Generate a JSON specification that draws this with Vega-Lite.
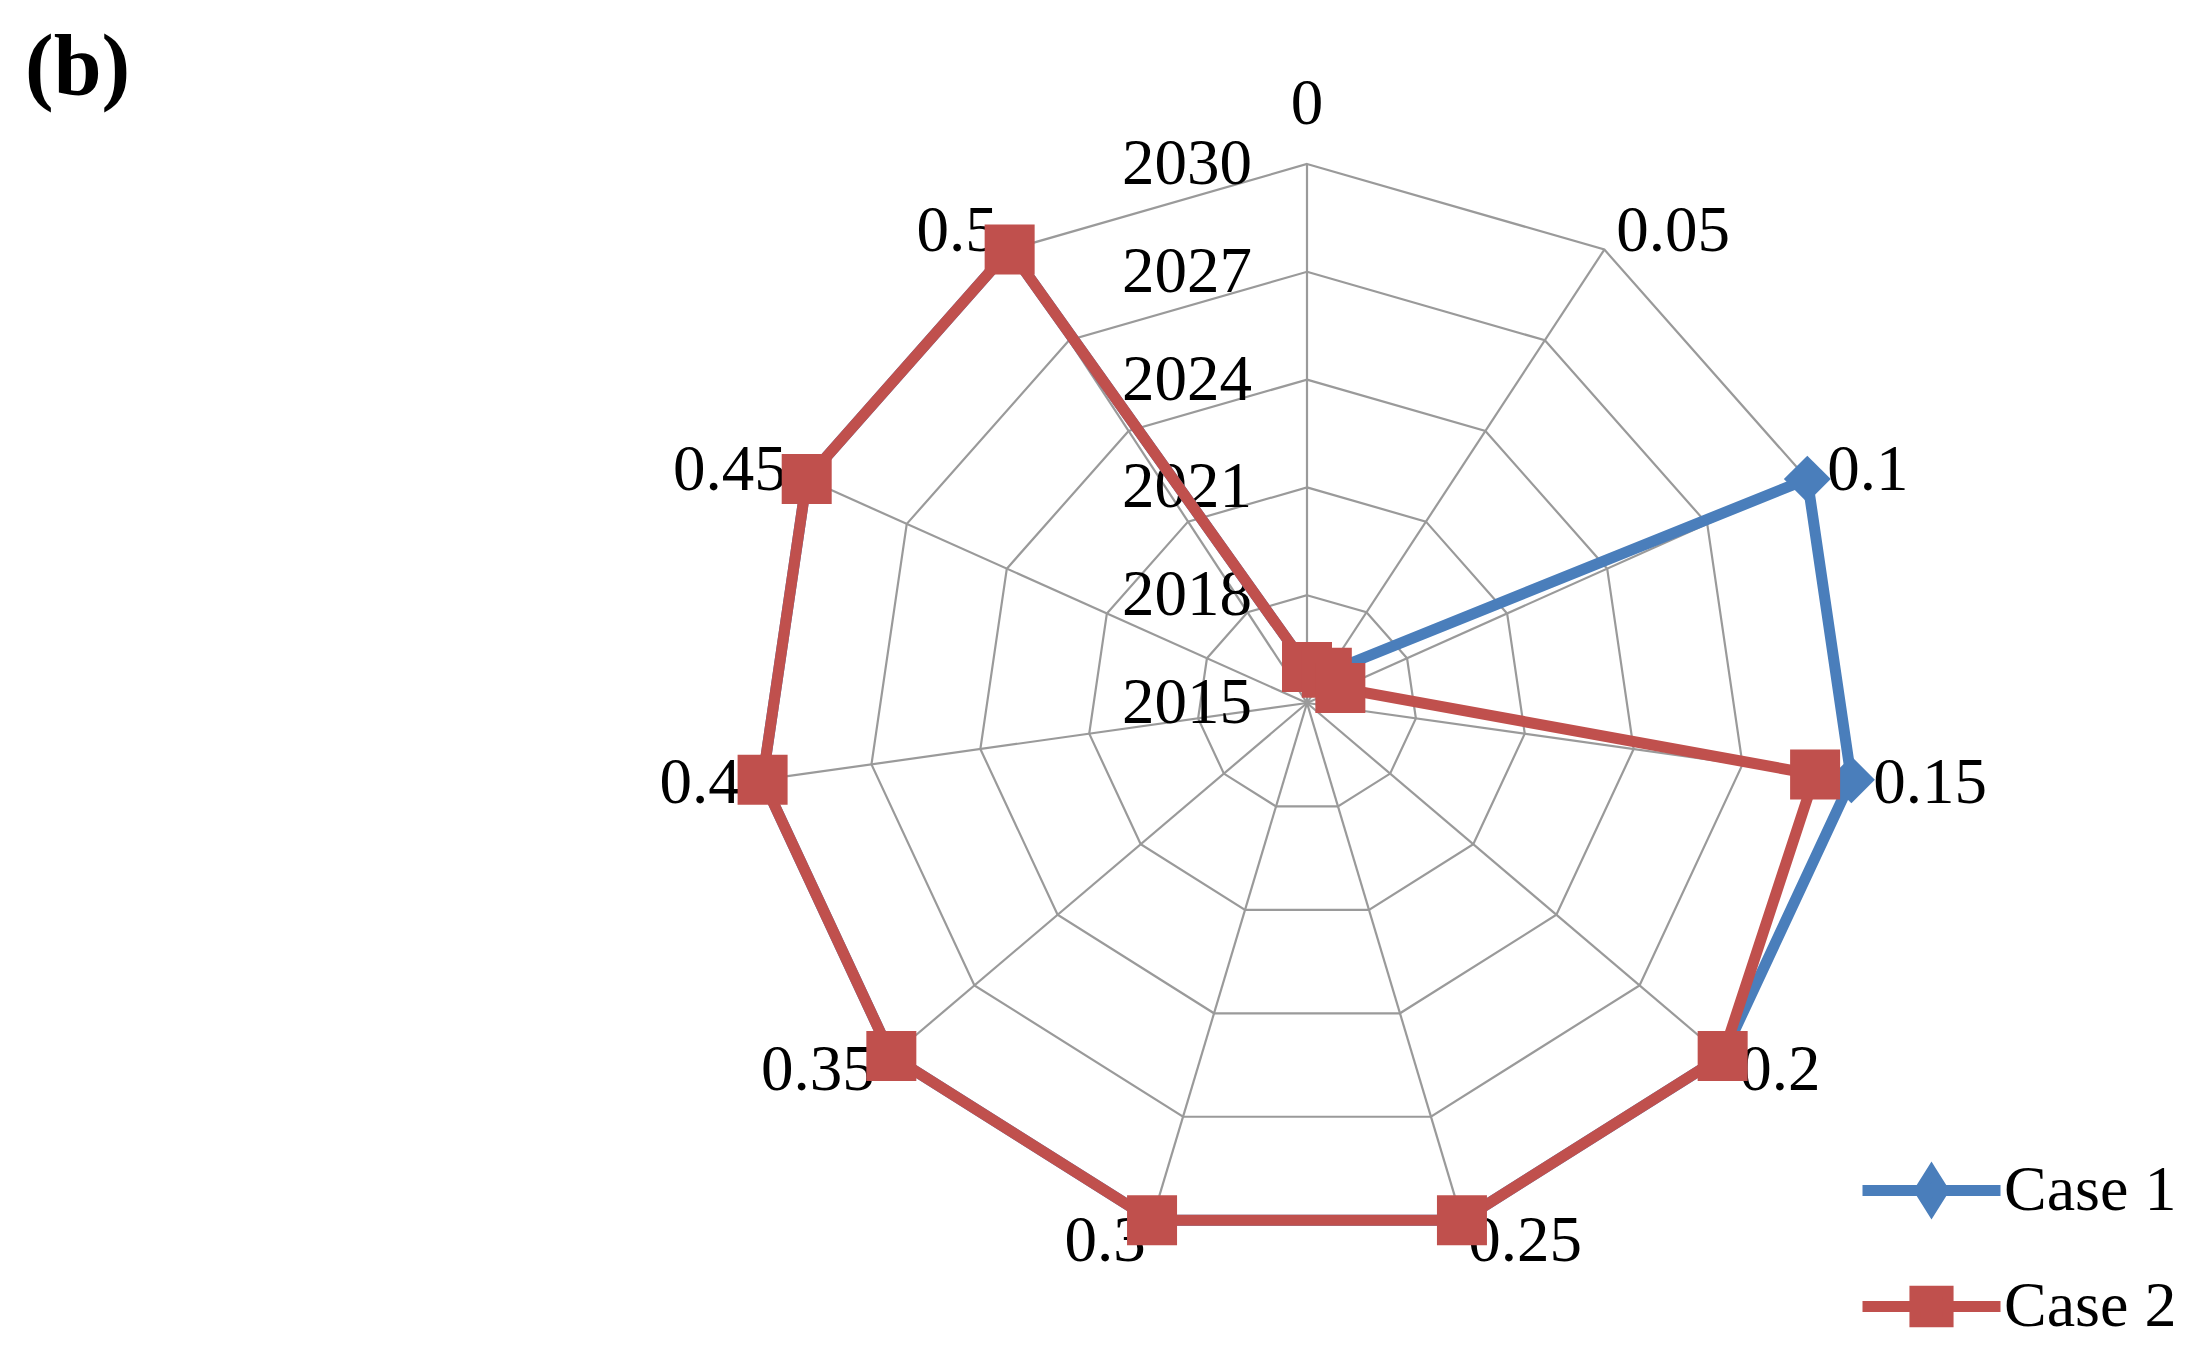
{
  "$schema": "https://vega.github.io/schema/vega-lite/v6.json",
  "width": 1100,
  "height": 1078,
  "autosize": "none",
  "padding": {"left": 757, "top": 164, "right": 345, "bottom": 116},
  "background": "white",
  "config": {"view": {"stroke": null}},
  "title": {
    "text": "(b)",
    "anchor": "start",
    "frame": "group",
    "font": "Liberation Serif",
    "fontWeight": "bold",
    "fontSize": 86,
    "color": "black",
    "baseline": "alphabetic",
    "dx": -732,
    "offset": 0,
    "dy": 108
  },
  "datasets": {
    "series": [
      {"case": "Case 1", "cat": 0, "year": 2016},
      {"case": "Case 1", "cat": 0.05, "year": 2016},
      {"case": "Case 1", "cat": 0.1, "year": 2030},
      {"case": "Case 1", "cat": 0.15, "year": 2030},
      {"case": "Case 1", "cat": 0.2, "year": 2030},
      {"case": "Case 1", "cat": 0.25, "year": 2030},
      {"case": "Case 1", "cat": 0.3, "year": 2030},
      {"case": "Case 1", "cat": 0.35, "year": 2030},
      {"case": "Case 1", "cat": 0.4, "year": 2030},
      {"case": "Case 1", "cat": 0.45, "year": 2030},
      {"case": "Case 1", "cat": 0.5, "year": 2030},
      {"case": "Case 2", "cat": 0, "year": 2016},
      {"case": "Case 2", "cat": 0.05, "year": 2016},
      {"case": "Case 2", "cat": 0.1, "year": 2016},
      {"case": "Case 2", "cat": 0.15, "year": 2029},
      {"case": "Case 2", "cat": 0.2, "year": 2030},
      {"case": "Case 2", "cat": 0.25, "year": 2030},
      {"case": "Case 2", "cat": 0.3, "year": 2030},
      {"case": "Case 2", "cat": 0.35, "year": 2030},
      {"case": "Case 2", "cat": 0.4, "year": 2030},
      {"case": "Case 2", "cat": 0.45, "year": 2030},
      {"case": "Case 2", "cat": 0.5, "year": 2030}
    ],
    "grid": [
      {"year": 2015, "cat": [0, 0.05, 0.1, 0.15, 0.2, 0.25, 0.3, 0.35, 0.4, 0.45, 0.5]},
      {"year": 2018, "cat": [0, 0.05, 0.1, 0.15, 0.2, 0.25, 0.3, 0.35, 0.4, 0.45, 0.5]},
      {"year": 2021, "cat": [0, 0.05, 0.1, 0.15, 0.2, 0.25, 0.3, 0.35, 0.4, 0.45, 0.5]},
      {"year": 2024, "cat": [0, 0.05, 0.1, 0.15, 0.2, 0.25, 0.3, 0.35, 0.4, 0.45, 0.5]},
      {"year": 2027, "cat": [0, 0.05, 0.1, 0.15, 0.2, 0.25, 0.3, 0.35, 0.4, 0.45, 0.5]},
      {"year": 2030, "cat": [0, 0.05, 0.1, 0.15, 0.2, 0.25, 0.3, 0.35, 0.4, 0.45, 0.5]}
    ]
  },
  "layer": [
    {
      "data": {"name": "grid"},
      "transform": [
        {"flatten": ["cat"]},
        {"filter": "datum.year > 2015"},
        {"calculate": "datum.cat / 0.05 * 2 * PI / 11", "as": "theta"},
        {"calculate": "(datum.year - 2015) / 15", "as": "r"},
        {"calculate": "datum.r * sin(datum.theta)", "as": "px"},
        {"calculate": "datum.r * cos(datum.theta)", "as": "py"}
      ],
      "mark": {"type": "line", "interpolate": "linear-closed", "color": "#9a9a9a", "strokeWidth": 2.2},
      "encoding": {
        "x": {"field": "px", "type": "quantitative", "scale": {"domain": [-1, 1], "nice": false, "zero": false}, "axis": null},
        "y": {"field": "py", "type": "quantitative", "scale": {"domain": [-1, 1], "nice": false, "zero": false}, "axis": null},
        "detail": {"field": "year", "type": "nominal"},
        "order": {"field": "cat", "type": "quantitative"}
      }
    },
    {
      "data": {"name": "grid"},
      "transform": [
        {"flatten": ["cat"]},
        {"filter": "datum.year == 2030"},
        {"calculate": "datum.cat / 0.05 * 2 * PI / 11", "as": "theta"},
        {"calculate": "sin(datum.theta)", "as": "px"},
        {"calculate": "cos(datum.theta)", "as": "py"},
        {"calculate": "0", "as": "ox"},
        {"calculate": "0", "as": "oy"}
      ],
      "mark": {"type": "rule", "color": "#9a9a9a", "strokeWidth": 2.2},
      "encoding": {
        "x": {"field": "ox", "type": "quantitative"},
        "y": {"field": "oy", "type": "quantitative"},
        "x2": {"field": "px"},
        "y2": {"field": "py"}
      }
    },
    {
      "data": {"name": "grid"},
      "transform": [
        {"flatten": ["cat"]},
        {"filter": "datum.cat == 0"},
        {"calculate": "(datum.year - 2015) / 15", "as": "py"},
        {"calculate": "0", "as": "px"}
      ],
      "mark": {"type": "text", "align": "right", "baseline": "middle", "dx": -55, "font": "Liberation Serif", "fontSize": 65, "color": "black"},
      "encoding": {
        "x": {"field": "px", "type": "quantitative"},
        "y": {"field": "py", "type": "quantitative"},
        "text": {"field": "year", "type": "nominal"}
      }
    },
    {
      "data": {"name": "grid"},
      "transform": [
        {"flatten": ["cat"]},
        {"filter": "datum.year == 2030 && datum.cat > 0.01 && datum.cat < 0.27"},
        {"calculate": "datum.cat / 0.05 * 2 * PI / 11", "as": "theta"},
        {"calculate": "1.04 * sin(datum.theta)", "as": "px"},
        {"calculate": "1.04 * cos(datum.theta)", "as": "py"}
      ],
      "mark": {"type": "text", "align": "left", "baseline": "middle", "font": "Liberation Serif", "fontSize": 65, "color": "black"},
      "encoding": {
        "x": {"field": "px", "type": "quantitative"},
        "y": {"field": "py", "type": "quantitative"},
        "text": {"field": "cat", "type": "nominal"}
      }
    },
    {
      "data": {"name": "grid"},
      "transform": [
        {"flatten": ["cat"]},
        {"filter": "datum.year == 2030 && datum.cat > 0.27"},
        {"calculate": "datum.cat / 0.05 * 2 * PI / 11", "as": "theta"},
        {"calculate": "1.04 * sin(datum.theta)", "as": "px"},
        {"calculate": "1.04 * cos(datum.theta)", "as": "py"}
      ],
      "mark": {"type": "text", "align": "right", "baseline": "middle", "font": "Liberation Serif", "fontSize": 65, "color": "black"},
      "encoding": {
        "x": {"field": "px", "type": "quantitative"},
        "y": {"field": "py", "type": "quantitative"},
        "text": {"field": "cat", "type": "nominal"}
      }
    },
    {
      "data": {"name": "grid"},
      "transform": [
        {"flatten": ["cat"]},
        {"filter": "datum.year == 2030 && datum.cat == 0"},
        {"calculate": "0", "as": "px"},
        {"calculate": "1.04", "as": "py"}
      ],
      "mark": {"type": "text", "align": "center", "baseline": "middle", "dy": -38, "font": "Liberation Serif", "fontSize": 65, "color": "black"},
      "encoding": {
        "x": {"field": "px", "type": "quantitative"},
        "y": {"field": "py", "type": "quantitative"},
        "text": {"field": "cat", "type": "nominal"}
      }
    },
    {
      "data": {"name": "series"},
      "transform": [
        {"filter": "datum.case == 'Case 1'"},
        {"calculate": "datum.cat / 0.05 * 2 * PI / 11", "as": "theta"},
        {"calculate": "(datum.year - 2015) / 15", "as": "r"},
        {"calculate": "datum.r * sin(datum.theta)", "as": "px"},
        {"calculate": "datum.r * cos(datum.theta)", "as": "py"}
      ],
      "mark": {"type": "line", "interpolate": "linear-closed", "strokeWidth": 11, "strokeJoin": "miter"},
      "encoding": {
        "x": {"field": "px", "type": "quantitative"},
        "y": {"field": "py", "type": "quantitative"},
        "order": {"field": "cat", "type": "quantitative"},
        "color": {
          "field": "case",
          "type": "nominal",
          "scale": {"domain": ["Case 1", "Case 2"], "range": ["#4a7ebb", "#c0504d"]},
          "legend": {
            "title": null,
            "orient": "none",
            "legendX": 1100,
            "legendY": 952,
            "padding": 0,
            "symbolSize": 19044,
            "symbolStrokeWidth": 11,
            "labelFont": "Liberation Serif",
            "labelFontSize": 64,
            "labelColor": "black",
            "labelLimit": 500,
            "labelOffset": -2,
            "rowPadding": -15,
            "encode": {
              "symbols": {
                "update": {
                  "shape": {"signal": "datum.value === 'Case 1' ? 'M-1,0H1M0,-0.27L0.17,0L0,0.27L-0.17,0Z' : 'M-1,0H1M-0.24,-0.22H0.24V0.22H-0.24Z'"},
                  "fill": {"signal": "datum.value === 'Case 1' ? '#4a7ebb' : '#c0504d'"},
                  "stroke": {"signal": "datum.value === 'Case 1' ? '#4a7ebb' : '#c0504d'"}
                }
              }
            }
          }
        }
      }
    },
    {
      "data": {"name": "series"},
      "transform": [
        {"filter": "datum.case == 'Case 1'"},
        {"calculate": "datum.cat / 0.05 * 2 * PI / 11", "as": "theta"},
        {"calculate": "(datum.year - 2015) / 15", "as": "r"},
        {"calculate": "datum.r * sin(datum.theta)", "as": "px"},
        {"calculate": "datum.r * cos(datum.theta)", "as": "py"}
      ],
      "mark": {"type": "point", "filled": true, "shape": "diamond", "size": 2200, "opacity": 1},
      "encoding": {
        "x": {"field": "px", "type": "quantitative"},
        "y": {"field": "py", "type": "quantitative"},
        "color": {"field": "case", "type": "nominal"}
      }
    },
    {
      "data": {"name": "series"},
      "transform": [
        {"filter": "datum.case == 'Case 2'"},
        {"calculate": "datum.cat / 0.05 * 2 * PI / 11", "as": "theta"},
        {"calculate": "(datum.year - 2015) / 15", "as": "r"},
        {"calculate": "datum.r * sin(datum.theta)", "as": "px"},
        {"calculate": "datum.r * cos(datum.theta)", "as": "py"}
      ],
      "mark": {"type": "line", "interpolate": "linear-closed", "strokeWidth": 11, "strokeJoin": "miter"},
      "encoding": {
        "x": {"field": "px", "type": "quantitative"},
        "y": {"field": "py", "type": "quantitative"},
        "order": {"field": "cat", "type": "quantitative"},
        "color": {"field": "case", "type": "nominal"}
      }
    },
    {
      "data": {"name": "series"},
      "transform": [
        {"filter": "datum.case == 'Case 2'"},
        {"calculate": "datum.cat / 0.05 * 2 * PI / 11", "as": "theta"},
        {"calculate": "(datum.year - 2015) / 15", "as": "r"},
        {"calculate": "datum.r * sin(datum.theta)", "as": "px"},
        {"calculate": "datum.r * cos(datum.theta)", "as": "py"}
      ],
      "mark": {"type": "point", "filled": true, "shape": "square", "size": 2500, "opacity": 1},
      "encoding": {
        "x": {"field": "px", "type": "quantitative"},
        "y": {"field": "py", "type": "quantitative"},
        "color": {"field": "case", "type": "nominal"}
      }
    }
  ]
}
